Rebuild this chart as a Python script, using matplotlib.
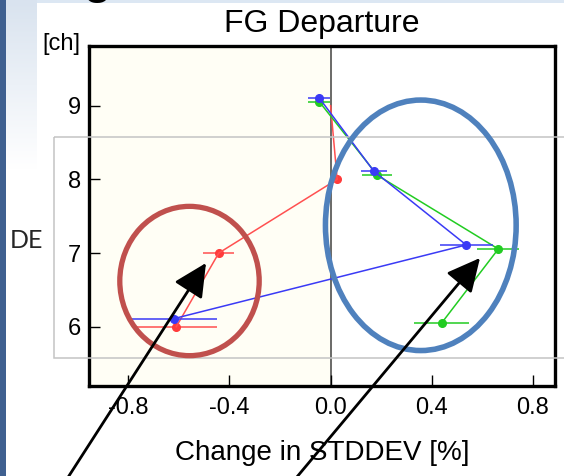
import numpy as np
import matplotlib
matplotlib.use('Agg')
import matplotlib.pyplot as plt
from matplotlib.patches import Ellipse, Rectangle

plt.rcParams['font.family'] = ['Liberation Sans', 'DejaVu Sans']

# channels on the y axis
channels = [9, 8, 7, 6]

# change in stddev [%] per channel, with error half widths
red_x = [0.0, 0.026, -0.442, -0.61]
red_err = [0.0, 0.0, 0.061, 0.159]
green_x = [-0.045, 0.185, 0.663, 0.44]
green_err = [0.043, 0.059, 0.083, 0.109]
blue_x = [-0.046, 0.171, 0.536, -0.619]
blue_err = [0.043, 0.051, 0.104, 0.168]

xticks = [-0.8, -0.4, 0.0, 0.4, 0.8]
yticks = [6, 7, 8, 9]

W, H = 564, 476
fig = plt.figure(figsize=(W / 100, H / 100), dpi=100)
ax = fig.add_axes([89 / W, 1 - 386 / H, (555 - 89) / W, (386 - 46) / H])

xmin, xmax = -0.955, 0.887
ax.set_xlim(xmin, xmax)
ax.set_ylim(5.195, 9.81)
ax.axvspan(xmin, 0, color='#FFFEF5', zorder=0)
ax.axvline(0, color='#505050', lw=1.2, zorder=1)

# small vertical dodge so the series do not overlap
dodge = {'red': 0.0, 'green': 0.055, 'blue': 0.11}
ch = np.array(channels, dtype=float)
ax.errorbar(red_x, ch + dodge['red'], xerr=red_err, color='#FF5050', lw=1.1,
            elinewidth=1.1, capsize=0, zorder=3)
ax.plot(red_x[1:], ch[1:] + dodge['red'], 'o', color='#FF3B3B', ms=5.5, zorder=3)
ax.errorbar(green_x, ch + dodge['green'], xerr=green_err, fmt='-o', color='#22CC22',
            ms=5.5, lw=1.1, elinewidth=1.1, capsize=0, zorder=4)
ax.errorbar(blue_x, ch + dodge['blue'], xerr=blue_err, fmt='-o', color='#3A3AF5',
            ms=5.5, lw=1.1, elinewidth=1.1, capsize=0, zorder=5)

ax.set_xticks(xticks)
ax.set_xticklabels(['%.1f' % v for v in xticks])
ax.set_yticks(yticks)
ax.tick_params(direction='in', length=8, width=1, labelsize=17, pad=6)
ax.tick_params(axis='x', pad=8)
for s in ax.spines.values():
    s.set_linewidth(2.4)
ax.set_title('FG Departure', fontsize=23, pad=10)
ax.set_xlabel('Change in STDDEV [%]', fontsize=20, labelpad=15)

# overlay in pixel coordinates for the slide decorations
ov = fig.add_axes([0, 0, 1, 1], zorder=10)
ov.set_xlim(0, W)
ov.set_ylim(H, 0)
ov.axis('off')
ov.patch.set_alpha(0)

grad = np.linspace(0, 1, 100)[:, None]
ov.imshow(grad, extent=[6, 37, 170, 0], cmap=matplotlib.colors.LinearSegmentedColormap.from_list(
    'g', ['#D9E3EF', '#FFFFFF']), aspect='auto', zorder=0)
ov.add_patch(Rectangle((37, 0), W - 37, 3, color='#DCE7F3', lw=0, zorder=0))
ov.add_patch(Rectangle((0, 0), 6, H, color='#3F6090', lw=0, zorder=1))
ov.text(97, -8, 'g', fontsize=38, ha='center', va='baseline', color='black')

ov.add_patch(Rectangle((53.5, 136.5), 600, 221, fill=False, ec='#C4C4C4', lw=1.1, zorder=2))
ov.add_patch(Ellipse((189.5, 281), 139.4, 149.3, fill=False, ec='#C0504D', lw=3.8, zorder=3))
ov.add_patch(Ellipse((420.8, 225.3), 190.7, 250.5, fill=False, ec='#4F81BD', lw=4.0, zorder=3))

ov.text(42, 50, '[ch]', fontsize=17, va='baseline', ha='left')
ov.text(10, 241, 'DE', fontsize=18, va='center', ha='left', color='#262626', family=['Lato', 'DejaVu Sans'])

aprops = dict(arrowstyle='-|>,head_length=0.85,head_width=0.42', mutation_scale=24,
              color='black', lw=2, shrinkA=0, shrinkB=0)
ov.annotate('', xy=(206, 263), xytext=(56, 496), arrowprops=aprops, annotation_clip=False, zorder=5)
ov.annotate('', xy=(480, 258), xytext=(281, 496), arrowprops=aprops, annotation_clip=False, zorder=5)

fig.savefig('out.png', dpi=100)
